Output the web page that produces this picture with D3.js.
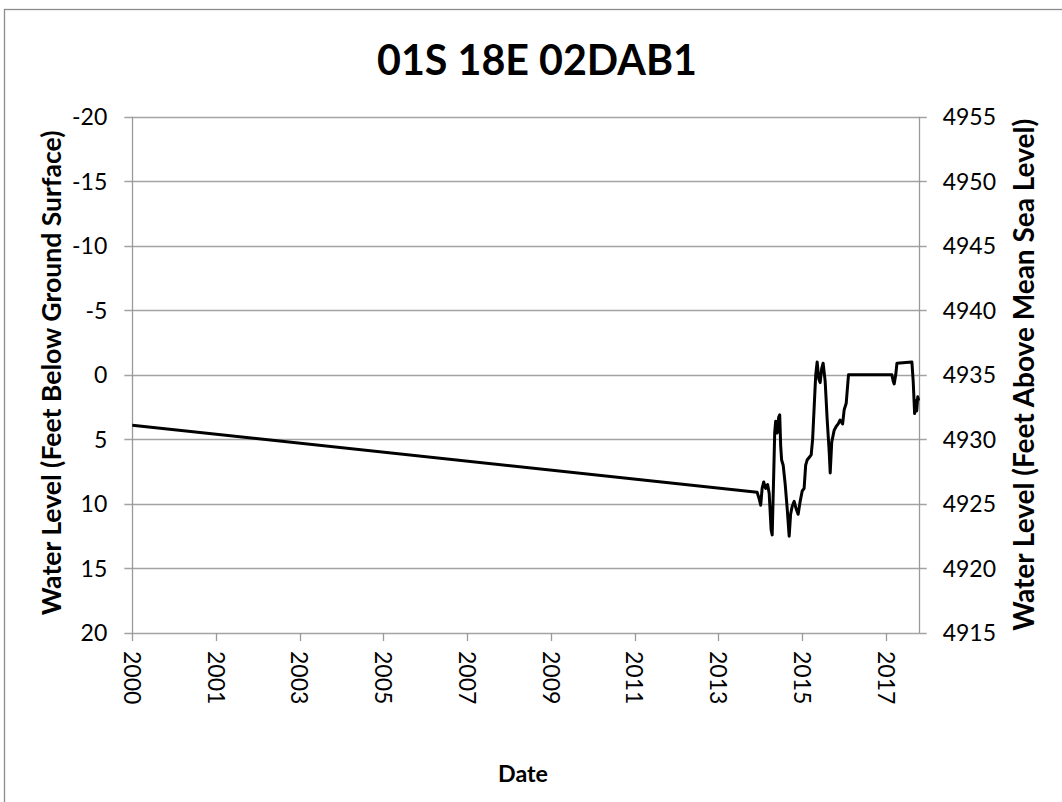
<!DOCTYPE html>
<html>
<head>
<meta charset="utf-8">
<script src="https://cdn.jsdelivr.net/npm/d3@7"></script>
<style>
  body { margin: 0; background: #fff; }
  svg { display: block; font-family: Lato, "Open Sans", sans-serif; }
</style>
</head>
<body>
<svg id="chart" width="1062" height="802"></svg>
<script>
// dati (profondità in piedi sotto il piano campagna)
const obsDates = [
  "2000-01-01", "2014-04-21", "2014-05-08", "2014-05-21", "2014-06-02", "2014-06-15",
  "2014-07-01", "2014-07-18", "2014-07-31", "2014-08-16", "2014-08-25", "2014-09-06",
  "2014-09-15", "2014-09-23", "2014-10-06", "2014-10-18", "2014-10-27", "2014-11-04",
  "2014-11-12", "2014-11-25", "2014-12-12", "2014-12-28", "2015-01-14", "2015-01-26",
  "2015-02-08", "2015-02-25", "2015-03-14", "2015-03-30", "2015-04-16", "2015-05-03",
  "2015-05-19", "2015-06-01", "2015-06-13", "2015-06-30", "2015-07-17", "2015-07-29",
  "2015-08-11", "2015-08-24", "2015-09-05", "2015-09-18", "2015-09-30", "2015-10-13",
  "2015-10-25", "2015-11-11", "2015-11-28", "2015-12-15", "2015-12-23", "2016-01-05",
  "2016-01-25", "2016-02-11", "2016-02-28", "2016-03-15", "2016-04-05", "2016-04-18",
  "2016-05-05", "2016-05-24", "2017-05-22", "2017-06-02", "2017-06-10", "2017-06-23",
  "2017-07-03", "2017-11-05", "2017-11-16", "2017-11-28", "2017-12-07", "2017-12-15",
  "2017-12-24", "2018-01-01"
];
const obsDepth = [
  3.9, 9.1, 9.6, 10.1, 8.8, 8.3,
  8.8, 8.5, 9.2, 12.0, 12.4, 8.0,
  4.5, 3.6, 4.5, 3.3, 3.1, 5.5,
  6.6, 7.0, 8.5, 10.3, 12.5, 10.8,
  10.2, 9.8, 10.4, 10.8, 9.8, 9.0,
  8.8, 7.0, 6.6, 6.4, 6.2, 5.0,
  2.5, 0.0, -1.0, 0.3, 0.6, -0.5,
  -0.9, 0.5, 3.5, 6.0, 7.6, 5.2,
  4.3, 4.0, 3.8, 3.5, 3.8, 2.7,
  2.2, 0.0, 0.0, 0.5, 0.7, 0.0,
  -0.9, -1.0, 0.5, 3.0, 2.0, 2.8,
  1.7, 2.0
];

const depthTicks = [-20, -15, -10, -5, 0, 5, 10, 15, 20];
const elevTicks = [4955, 4950, 4945, 4940, 4935, 4930, 4925, 4920, 4915];
const landSurface = 4935; // quota del piano campagna
const dateStart = "2000-01-01";
const dateEnd = "2018-01-01";
const dateStepDays = 700; // passo delle tacche sull'asse X (come Excel)

const titleText = "01S 18E 02DAB1";
const leftTitle = "Water Level (Feet Below Ground Surface)";
const rightTitle = "Water Level (Feet Above Mean Sea Level)";
const xTitle = "Date";

const svg = d3.select('#chart');
const parse = d3.timeParse('%Y-%m-%d');

const plot = { left: 132.3, right: 918.7, top: 116.7, bottom: 633 };

const x = d3.scaleTime()
    .domain([parse(dateStart), parse(dateEnd)])
    .range([plot.left, plot.right]);

const y = d3.scaleLinear()
    .domain([-20, 20])
    .range([plot.top, plot.bottom]);

const y2 = d3.scaleLinear()
    .domain([landSurface + 20, landSurface - 20])
    .range([plot.top, plot.bottom]);

// tacche ogni 700 giorni a partire dall'inizio
const xTicks = [];
for (let d = parse(dateStart); d <= parse(dateEnd); d = d3.timeDay.offset(d, dateStepDays)) {
    xTicks.push(d);
}

// bordo esterno del grafico
svg.append('rect')
    .attr('x', 4.5)
    .attr('y', 9.5)
    .attr('width', 1070)
    .attr('height', 820)
    .style('fill', 'none')
    .style('stroke', '#8c8c8c')
    .style('stroke-width', 1.3);

// griglia orizzontale
svg.append('g')
    .selectAll('line')
    .data(depthTicks)
    .enter()
    .append('line')
    .attr('x1', plot.left - 8)
    .attr('x2', plot.right + 8)
    .attr('y1', d => Math.round(y(d)) + 0.5)
    .attr('y2', d => Math.round(y(d)) + 0.5)
    .style('stroke', '#a3a3a3')
    .style('stroke-width', 1.3);

// assi
const axisColor = '#9a9a9a';
svg.append('line')
    .attr('x1', Math.round(plot.left) + 0.5).attr('x2', Math.round(plot.left) + 0.5)
    .attr('y1', plot.top).attr('y2', plot.bottom)
    .style('stroke', axisColor).style('stroke-width', 1.3);
svg.append('line')
    .attr('x1', Math.round(plot.right) + 0.5).attr('x2', Math.round(plot.right) + 0.5)
    .attr('y1', plot.top).attr('y2', plot.bottom)
    .style('stroke', axisColor).style('stroke-width', 1.3);

// tacche asse X
svg.append('g')
    .selectAll('line')
    .data(xTicks)
    .enter()
    .append('line')
    .attr('x1', d => Math.round(x(d)) + 0.5)
    .attr('x2', d => Math.round(x(d)) + 0.5)
    .attr('y1', plot.bottom)
    .attr('y2', plot.bottom + 8)
    .style('stroke', axisColor)
    .style('stroke-width', 1.3);

// etichette
const tickSize = 23;

svg.append('g')
    .selectAll('text')
    .data(depthTicks)
    .enter()
    .append('text')
    .attr('x', plot.left - 25)
    .attr('y', d => y(d))
    .attr('dy', '0.36em')
    .style('text-anchor', 'end')
    .style('font-size', tickSize + 'px')
    .style('fill', '#000')
    .text(d => d);

svg.append('g')
    .selectAll('text')
    .data(elevTicks)
    .enter()
    .append('text')
    .attr('x', plot.right + 24)
    .attr('y', d => y2(d))
    .attr('dy', '0.36em')
    .style('text-anchor', 'start')
    .style('font-size', tickSize + 'px')
    .style('fill', '#000')
    .text(d => d);

svg.append('g')
    .selectAll('text')
    .data(xTicks)
    .enter()
    .append('text')
    .attr('transform', d => `translate(${x(d)}, ${plot.bottom + 18}) rotate(90)`)
    .attr('dy', '0.36em')
    .style('text-anchor', 'start')
    .style('font-size', tickSize + 'px')
    .style('fill', '#000')
    .text(d => d3.timeFormat('%Y')(d));

// adatta la dimensione del testo alla larghezza misurata sul riferimento
function fitText(sel, target) {
    const len = sel.node().getComputedTextLength();
    const size = parseFloat(sel.style('font-size'));
    sel.style('font-size', (size * target / len) + 'px');
}

const title = svg.append('text')
    .attr('x', 537)
    .attr('y', 75)
    .style('text-anchor', 'middle')
    .style('font-weight', 'bold')
    .style('font-size', '40px')
    .text(titleText);
fitText(title, 320);

const lt = svg.append('text')
    .attr('transform', `translate(61, ${(plot.top + plot.bottom) / 2 - 2}) rotate(-90)`)
    .style('text-anchor', 'middle')
    .style('font-weight', 'bold')
    .style('font-size', '21px')
    .text(leftTitle);
fitText(lt, 485);

const rt = svg.append('text')
    .attr('transform', `translate(1034, ${(plot.top + plot.bottom) / 2}) rotate(-90)`)
    .style('text-anchor', 'middle')
    .style('font-weight', 'bold')
    .style('font-size', '21px')
    .text(rightTitle);
fitText(rt, 512);

const xt = svg.append('text')
    .attr('x', 523)
    .attr('y', 782)
    .style('text-anchor', 'middle')
    .style('font-weight', 'bold')
    .style('font-size', '21px')
    .text(xTitle);
fitText(xt, 50);

// serie
const series = obsDates.map((d, i) => ({ date: parse(d), depth: obsDepth[i] }));

svg.append('path')
    .datum(series)
    .attr('d', d3.line().x(d => x(d.date)).y(d => y(d.depth)))
    .style('fill', 'none')
    .style('stroke', '#000')
    .style('stroke-width', 3)
    .style('stroke-linejoin', 'round');
</script>
</body>
</html>
